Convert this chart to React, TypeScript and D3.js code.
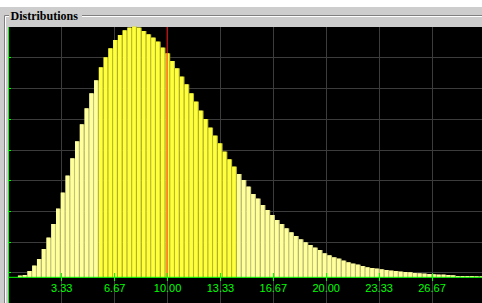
import * as d3 from 'd3';
import React, { useEffect, useRef } from 'react';

// histogram bins: 100 bins of width 0.3 from 0 to 30
const binWidth = 0.3;
const frequencies = [
  0, 0, 1.7, 2.3, 6.3, 11.7, 18.3, 28.3, 39.7, 53.3,
  68.7, 84.7, 101.7, 119, 136, 153, 169, 184, 197, 210,
  220, 229, 237.3, 242.3, 247, 249.7, 250.7, 249.7, 246.3, 243,
  239.7, 235.7, 229.7, 224, 216.3, 209, 200.7, 193, 184, 175.7,
  166.7, 158.3, 149.7, 141.7, 134, 125.7, 118, 110.7, 103.3, 97.3,
  90.7, 83.3, 78.7, 72.3, 67.3, 62.3, 57.3, 53.3, 49, 45,
  41.3, 38, 35, 32.3, 29.7, 27.3, 24, 22, 20, 18.7,
  16.7, 15, 13.7, 12.7, 11.3, 10, 9.3, 8.7, 8, 7.3,
  6.7, 6.3, 5.7, 5.3, 5, 4.3, 4, 3.7, 3.3, 3,
  2.7, 2.7, 2.3, 2, 1.3, 1.3, 1.3, 1.3, 1, 1,
];
const highlightRange = [5.7, 14.4];
const markerValue = 10;
const tickValues = [10 / 3, 20 / 3, 10, 40 / 3, 50 / 3, 20, 70 / 3, 80 / 3];
const tickLabels = ['3.33', '6.67', '10.00', '13.33', '16.67', '20.00', '23.33', '26.67'];

const App: React.FC = () => {
  const ref = useRef<SVGSVGElement>(null);

  useEffect(() => {
    if (!ref.current) return;
    const width = 482;
    const height = 303;
    const plotTop = 27;
    const baseY = 277.3;

    const svg = d3.select(ref.current);
    svg.selectAll('*').remove();
    svg.attr('width', width).attr('height', height);

    const x = d3.scaleLinear().domain([0, 30]).range([8.4, 484.4]);
    const y = d3.scaleLinear().domain([0, 250.7]).range([baseY, 26.6]);
    const grid = d3.scaleLinear().domain([0, 8]).range([272.3, 26.7]);

    // window frame
    svg.append('rect').attr('x', 0).attr('y', 7).attr('width', width).attr('height', height - 7).attr('fill', '#cdcdcd');
    svg.append('path').attr('d', `M4.5,${height}V15.5H${width}`).attr('fill', 'none').attr('stroke', '#808080');
    svg.append('path').attr('d', `M5.5,${height}V16.5H${width}`).attr('fill', 'none').attr('stroke', '#ffffff');
    svg.append('rect').attr('x', 9).attr('y', 9).attr('width', 73).attr('height', 12).attr('fill', '#cdcdcd');
    svg.append('text')
      .attr('x', 10.5).attr('y', 19.5)
      .style('font-family', '"Liberation Serif", "Times New Roman", serif')
      .style('font-weight', 'bold')
      .style('font-size', '12px')
      .attr('fill', '#000')
      .text('Distributions');

    // plot background
    svg.append('rect').attr('x', 8).attr('y', plotTop).attr('width', width - 8).attr('height', height - plotTop).attr('fill', '#000');

    // grid
    svg.selectAll('.hgrid')
      .data(d3.range(0, 8))
      .enter()
      .append('line')
      .attr('x1', 9).attr('x2', width)
      .attr('y1', d => Math.round(grid(d)) + 0.5)
      .attr('y2', d => Math.round(grid(d)) + 0.5)
      .attr('stroke', '#3c3c3c');
    svg.selectAll('.vgrid')
      .data(tickValues)
      .enter()
      .append('line')
      .attr('x1', d => Math.round(x(d)) + 0.5)
      .attr('x2', d => Math.round(x(d)) + 0.5)
      .attr('y1', plotTop).attr('y2', height)
      .attr('stroke', '#3c3c3c');

    // bars
    const inHighlight = (i: number) => {
      const start = +(i * binWidth).toFixed(2);
      return start >= highlightRange[0] && start < highlightRange[1];
    };
    const bars = svg.append('g');
    bars.selectAll('.edge')
      .data(frequencies)
      .enter()
      .append('rect')
      .attr('x', (d, i) => x(i * binWidth))
      .attr('width', x(binWidth) - x(0))
      .attr('y', d => y(d))
      .attr('height', d => baseY - y(d))
      .attr('fill', (d, i) => (inHighlight(i) ? '#b8b82c' : '#c2c27a'));
    bars.selectAll('.bar')
      .data(frequencies)
      .enter()
      .append('rect')
      .attr('x', (d, i) => x(i * binWidth))
      .attr('width', x(binWidth) - x(0) - 1.1)
      .attr('y', d => y(d))
      .attr('height', d => baseY - y(d))
      .attr('fill', (d, i) => (inHighlight(i) ? '#ffff3c' : '#ffff9c'));

    // marker line
    svg.append('line')
      .attr('x1', x(markerValue)).attr('x2', x(markerValue))
      .attr('y1', plotTop).attr('y2', baseY)
      .attr('stroke', '#ff0000')
      .attr('stroke-opacity', 0.5)
      .attr('stroke-width', 1.8);

    // axes
    svg.append('line').attr('x1', 8).attr('x2', width).attr('y1', baseY).attr('y2', baseY).attr('stroke', '#00ff00');
    svg.append('line').attr('x1', 8.5).attr('x2', 8.5).attr('y1', plotTop).attr('y2', height).attr('stroke', '#00ff00');
    svg.selectAll('.ytick')
      .data(d3.range(0, 8))
      .enter()
      .append('line')
      .attr('x1', 8).attr('x2', 11)
      .attr('y1', d => Math.round(grid(d)) + 0.5)
      .attr('y2', d => Math.round(grid(d)) + 0.5)
      .attr('stroke', '#00ff00');
    svg.selectAll('.xtick')
      .data(tickValues)
      .enter()
      .append('line')
      .attr('x1', d => Math.round(x(d)) + 0.5)
      .attr('x2', d => Math.round(x(d)) + 0.5)
      .attr('y1', 273).attr('y2', 281)
      .attr('stroke', '#00ff00');
    svg.selectAll('.xlabel')
      .data(tickValues)
      .enter()
      .append('text')
      .attr('x', d => x(d) + 0.5)
      .attr('y', 291.5)
      .attr('text-anchor', 'middle')
      .style('font-family', '"Liberation Sans", Arial, sans-serif')
      .style('font-size', '11px')
      .attr('fill', '#00ff00')
      .text((d, i) => tickLabels[i]);
  }, []);

  return <svg ref={ref} style={{ position: 'absolute', left: 0, top: 0 }} />;
};

export default App;
